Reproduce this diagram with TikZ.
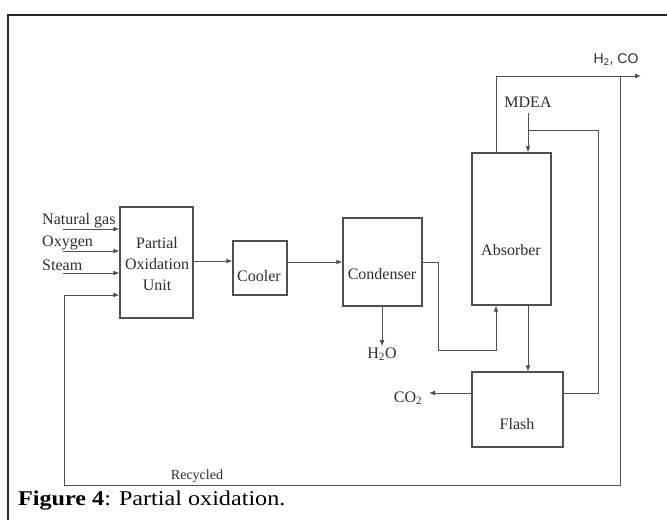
\documentclass[tikz,border=0pt]{standalone}
\usepackage{fontspec}
\setmainfont{Liberation Serif}
\newfontfamily\sansfont{Liberation Sans}
\newfontfamily\capfont[FakeStretch=1.15]{Liberation Serif}
\usetikzlibrary{arrows.meta,positioning}
\definecolor{linegray}{RGB}{80,80,80}
\definecolor{textgray}{RGB}{45,45,45}
\definecolor{framegray}{RGB}{40,40,40}

\begin{document}
\begin{tikzpicture}[
  x=1pt,y=-1pt,
  font=\fontsize{16}{18}\selectfont,
  unit/.style={draw=linegray,line width=1.2pt,inner sep=0pt},
  txt/.style={text=textgray,inner sep=1pt},
  arr/.style={-{Latex[length=6pt,width=5pt]},draw=linegray,line width=1pt},
  pipe/.style={draw=linegray,line width=1pt},
]
\useasboundingbox (0,0) rectangle (667,520);

% cadre
\draw[line width=1.5pt,draw=framegray] (8,520) -- (8,15) -- (667,15);

% appareils
\node[unit,minimum width=73pt,minimum height=111pt] (pou) at (156.5,262.5) {};
\node[unit,minimum width=54pt,minimum height=54pt] (cooler) at (260,268) {};
\node[unit,minimum width=79pt,minimum height=88pt] (condenser) at (382.5,262) {};
\node[unit,minimum width=79pt,minimum height=152pt] (absorber) at (511.5,229) {};
\node[unit,minimum width=91pt,minimum height=75pt] (flash) at (517.5,409.5) {};

% textes des appareils
\node[txt,align=center,font=\fontsize{16}{21}\selectfont] (poutext) at (157,264) {Partial\\Oxidation\\Unit};
\node[txt] (coolertext) at (259,276) {Cooler};
\node[txt] (condensertext) at (382,274) {Condenser};
\node[txt] (absorbertext) at (511,250) {Absorber};
\node[txt] (flashtext) at (517,424) {Flash};

% alimentations
\node[txt,anchor=west] (ngtext) at (41,221) {Natural gas};
\node[txt,anchor=west] (oxtext) at (41,243) {Oxygen};
\node[txt,anchor=west] (sttext) at (41,265) {Steam};
\coordinate (ngin) at (63,229);
\coordinate (oxin) at (63,251);
\coordinate (stin) at (63,273);
\draw[arr] (ngin) -- (pou.west |- ngin);
\draw[arr] (oxin) -- (pou.west |- oxin);
\draw[arr] (stin) -- (pou.west |- stin);

% ligne principale
\coordinate (gasline) at (0,261);
\draw[arr] (pou.east |- gasline) -- (cooler.west |- gasline);
\draw[arr] (cooler.east |- condenser.west) -- (condenser.west);

% eau
\node[txt] (h2o) at (382,354) {H\textsubscript{2}O};
\draw[arr] (condenser.south -| h2o) -- (h2o.north);

% condenseur vers absorbeur
\coordinate (s1) at (438,350);
\coordinate (s2) at (496,0);
\draw[arr] (condenser.east) -| (s1) -| (absorber.south -| s2);

% gaz de synthese
\node[txt,font=\sansfont\fontsize{14}{16}\selectfont] (h2co) at (616,60) {H\textsubscript{2}, CO};
\coordinate (gasout) at (641,76);
\draw[arr] (absorber.north -| s2) |- (gasout);

% MDEA et solvant
\node[txt] (mdea) at (528,102) {MDEA};
\coordinate (mdeain) at (528,113);
\draw[arr] (mdeain) -- (absorber.north -| mdeain);
\draw[arr] (absorber.south -| mdeain) -- (flash.north -| mdeain);
\coordinate (fl) at (0,393);
\coordinate (rc1) at (598,130);
\draw[pipe] (flash.east |- fl) -| (rc1) -- (rc1 -| mdeain);

% CO2
\node[txt] (co2) at (408,398) {CO\textsubscript{2}};
\coordinate (co2end) at (429,393);
\draw[arr] (flash.west |- fl) -- (co2end);

% recyclage
\coordinate (rr1) at (620,76);
\coordinate (rr2) at (64,485);
\coordinate (rr3) at (0,295);
\draw[arr] (rr1) |- (rr2) |- (pou.west |- rr3);
\node[txt,font=\fontsize{14}{16}\selectfont] (recycled) at (197,476) {Recycled};

% legende
\node[anchor=base west,inner sep=0pt,font=\capfont\fontsize{21}{24}\selectfont] (caption) at (18,505) {\textbf{Figure 4}: Partial oxidation.};
\end{tikzpicture}
\end{document}
